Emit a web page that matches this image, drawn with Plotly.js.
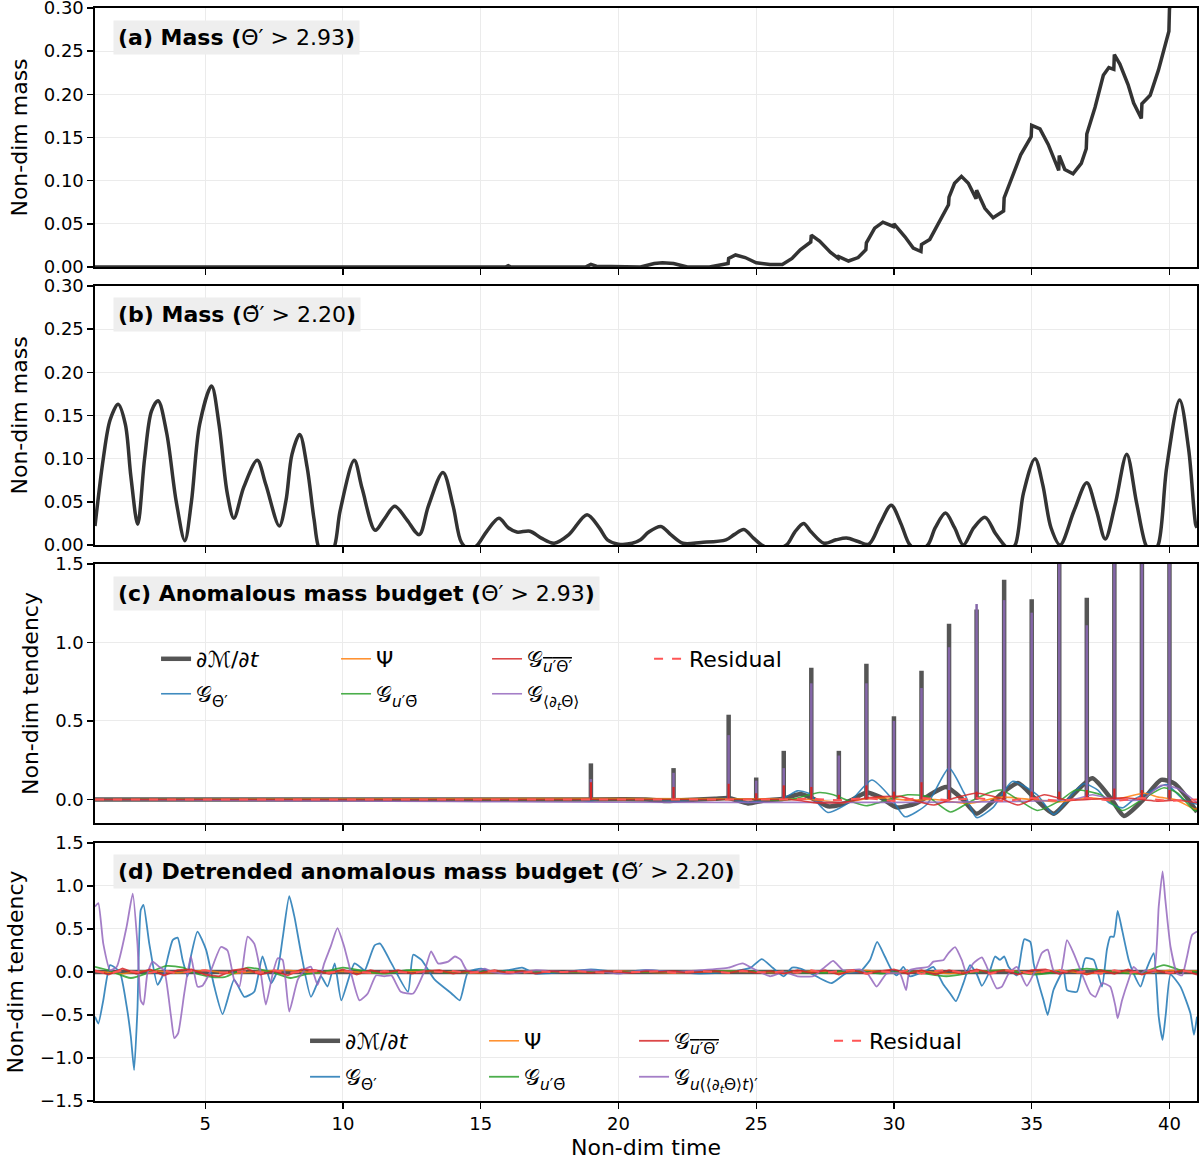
<!DOCTYPE html>
<html>
<head>
<meta charset="utf-8">
<script src="https://cdn.plot.ly/plotly-3.0.1.min.js"></script>
<style>html,body{margin:0;padding:0;background:#fff;}#chart{width:1202px;height:1163px;}</style>
</head>
<body>
<div id="chart"></div>
<script>
// ---------------- DATA ----------------
// (a) Mass, Theta' > 2.93
const massA_t = [1, 15, 15.9, 16.0, 16.1, 18.8, 19.0, 19.2, 20.8, 21.3, 21.6, 22.0, 22.5, 23.3, 23.7, 23.98, 24.0, 24.25, 24.6, 25.0, 25.5, 25.95, 26.3, 26.6, 26.98, 27.0, 27.3, 27.7, 27.98, 28.0, 28.35, 28.7, 28.98, 29.0, 29.3, 29.6, 29.98, 30.0, 30.4, 30.7, 30.98, 31.0, 31.3, 31.6, 31.98, 32.0, 32.2, 32.45, 32.7, 32.98, 33.0, 33.3, 33.6, 33.98, 34.0, 34.3, 34.6, 34.98, 35.0, 35.3, 35.6, 35.98, 36.0, 36.2, 36.5, 36.8, 36.98, 37.0, 37.3, 37.6, 37.8, 37.98, 38.0, 38.2, 38.5, 38.7, 38.98, 39.0, 39.3, 39.6, 39.98, 40.0, 40.1];
const massA_v = [0, 0, 0, 0.0015, 0, 0, 0.003, 0.001, 0, 0.004, 0.005, 0.004, 0.0, 0, 0.002, 0.004, 0.010, 0.014, 0.011, 0.005, 0.003, 0.003, 0.010, 0.020, 0.029, 0.037, 0.030, 0.017, 0.010, 0.012, 0.007, 0.011, 0.020, 0.028, 0.045, 0.052, 0.047, 0.050, 0.035, 0.022, 0.018, 0.026, 0.032, 0.050, 0.072, 0.081, 0.097, 0.105, 0.097, 0.079, 0.089, 0.068, 0.057, 0.065, 0.080, 0.105, 0.130, 0.151, 0.164, 0.160, 0.142, 0.112, 0.129, 0.113, 0.108, 0.120, 0.137, 0.154, 0.185, 0.222, 0.231, 0.229, 0.246, 0.235, 0.211, 0.190, 0.172, 0.189, 0.199, 0.228, 0.273, 0.298, 0.33];

// (b) Mass, detrended Theta' > 2.20
const massB_t = [1.0, 1.3, 1.55, 1.84, 2.1, 2.3, 2.55, 2.8, 3.05, 3.29, 3.6, 3.95, 4.26, 4.5, 4.8, 5.23, 5.5, 5.8, 6.04, 6.4, 6.89, 7.2, 7.69, 7.93, 8.15, 8.43, 8.7, 8.95, 9.15, 9.4, 9.65, 9.9, 10.41, 10.7, 11.17, 11.5, 11.88, 12.3, 12.77, 13.1, 13.63, 14.0, 14.3, 14.6, 14.88, 15.2, 15.66, 16.0, 16.31, 16.79, 17.2, 17.67, 18.2, 18.86, 19.3, 19.6, 20.0, 20.5, 20.8, 21.1, 21.54, 21.9, 22.34, 23.0, 23.9, 24.2, 24.55, 24.9, 25.2, 25.6, 26.1, 26.4, 26.72, 27.0, 27.46, 27.9, 28.28, 28.7, 29.09, 29.5, 29.9, 30.25, 30.58, 30.9, 31.23, 31.5, 31.87, 32.2, 32.52, 32.9, 33.31, 33.69, 34.0, 34.2, 34.4, 34.7, 35.12, 35.4, 35.7, 36.03, 36.54, 37.0, 37.35, 37.67, 38.03, 38.45, 38.8, 39.14, 39.35, 39.59, 39.9, 40.37, 40.7, 40.95, 41.0];
const massB_v = [0.022, 0.10, 0.145, 0.163, 0.14, 0.08, 0.024, 0.10, 0.155, 0.167, 0.13, 0.05, 0.005, 0.05, 0.14, 0.184, 0.14, 0.06, 0.031, 0.067, 0.098, 0.07, 0.022, 0.051, 0.105, 0.128, 0.09, 0.03, -0.005, -0.01, -0.005, 0.04, 0.098, 0.065, 0.017, 0.03, 0.045, 0.03, 0.012, 0.045, 0.084, 0.045, 0.003, -0.005, 0.0, 0.015, 0.031, 0.02, 0.015, 0.016, 0.008, 0.002, 0.012, 0.035, 0.02, 0.006, 0.001, 0.002, 0.006, 0.015, 0.0215, 0.012, 0.002, 0.003, 0.006, 0.012, 0.018, 0.008, 0.0, -0.005, 0.0, 0.015, 0.025, 0.015, 0.002, 0.006, 0.008, 0.004, 0.001, 0.025, 0.046, 0.025, 0.0, -0.006, 0.0, 0.02, 0.037, 0.02, 0.0, 0.02, 0.032, 0.013, 0.0, -0.005, 0.0, 0.06, 0.100, 0.07, 0.02, 0.0, 0.040, 0.072, 0.04, 0.007, 0.047, 0.105, 0.05, 0.0, -0.01, 0.0, 0.09, 0.168, 0.11, 0.024, 0.02];

// (c) Anomalous mass budget: smooth parts
const dMdtC_t = [1, 18, 21, 21.7, 22.3, 23.5, 24.0, 24.7, 25.3, 26.0, 26.6, 27.0, 27.6, 28.1, 28.5, 29.0, 29.5, 30.1, 30.8, 31.4, 31.9, 32.5, 33.0, 33.6, 34.0, 34.5, 35.1, 35.8, 36.5, 37.2, 37.9, 38.35, 39.0, 39.7, 40.2, 40.6, 41.0];
const dMdtC_v = [0, 0, 0, -0.01, -0.005, 0.005, 0.01, -0.025, -0.005, 0.005, 0.035, 0.01, -0.043, -0.03, 0.0, 0.045, 0.015, -0.05, -0.025, 0.04, 0.08, 0.0, -0.09, -0.01, 0.05, 0.105, 0.01, -0.09, 0.03, 0.135, 0.0, -0.105, -0.01, 0.125, 0.10, 0.02, -0.08];
const gThetaDotC_t = [1, 18.5, 19.0, 19.3, 21, 22, 23, 24, 24.7, 25.3, 26.0, 26.5, 26.9, 27.6, 28.4, 29.2, 29.9, 30.4, 31.2, 32.0, 32.55, 33.0, 33.6, 34.3, 35.2, 35.8, 36.5, 36.9, 37.4, 37.8, 38.3, 38.7, 39.3, 39.9, 40.5, 41];
const gThetaDotC_v = [0, 0, -0.01, 0, 0, -0.01, 0, 0.005, -0.02, -0.005, 0.01, 0.055, 0.04, -0.083, -0.015, 0.124, 0.01, -0.11, -0.03, 0.2, 0.04, -0.115, -0.05, 0.115, 0.03, -0.095, 0.04, 0.10, 0.06, -0.02, -0.053, 0.0, 0.05, 0.095, 0.0, -0.03];
const psiC_t = [1, 27, 27.5, 28.2, 29, 29.75, 30.5, 31.5, 32.7, 33.9, 35, 36, 37, 38, 39.1, 39.6, 40.2, 40.9, 41];
const psiC_v = [0, 0, -0.01, -0.02, 0.005, 0.01, -0.005, 0.0, -0.025, 0.015, 0.0, -0.015, 0.01, 0.0, 0.04, 0.015, 0.0, -0.06, -0.06];
const gUThetaBarC_t = [1, 24, 25, 26, 26.5, 27.3, 27.8, 28.4, 29.0, 30.0, 30.5, 31.2, 32.05, 32.7, 33.4, 33.9, 34.5, 35.2, 36.0, 36.6, 37.5, 38.3, 39.0, 39.8, 40.3, 40.9, 41];
const gUThetaBarC_v = [0, 0, 0.0, -0.005, 0.01, 0.045, 0.03, -0.01, -0.04, 0.01, 0.03, 0.02, -0.08, -0.02, 0.04, 0.06, 0.0, -0.07, -0.01, 0.06, 0.03, -0.07, 0.0, 0.075, 0.04, -0.07, -0.07];
const gUThetaC_t = [1, 26, 26.5, 27.1, 28.1, 29, 30.2, 31.45, 32.2, 33.0, 33.9, 34.5, 35.45, 36.3, 37.5, 38.5, 39.5, 40.3, 41];
const gUThetaC_v = [0, 0, -0.005, -0.02, -0.02, 0.01, 0.02, -0.035, 0.01, 0.04, 0.005, -0.035, 0.03, -0.005, 0.005, 0.01, -0.01, -0.005, -0.02];
const gDtThetaC_t = [1, 36.5, 37.2, 38.0, 39.0, 39.7, 40.3, 41];
const gDtThetaC_v = [0, 0, 0.03, 0, 0, 0.09, 0.07, -0.02];
const residC_t = [1, 26, 27, 28, 29, 30, 31, 32, 33, 34, 35, 36, 37, 38, 39, 40, 41];
const residC_v = [0, 0, 0.005, -0.005, 0.01, -0.01, 0.01, -0.005, 0.01, -0.01, 0.01, -0.01, 0.01, -0.01, 0.01, -0.01, 0.0];

// (c) spikes at integer times
const spike_t = [19, 22, 24, 25, 26, 27, 28, 29, 30, 31, 32, 33, 34, 35, 36, 37, 38, 39, 40];
const spikeDMdt = [0.23, 0.20, 0.54, 0.14, 0.31, 0.84, 0.31, 0.865, 0.53, 0.82, 1.12, 1.21, 1.40, 1.275, 1.8, 1.285, 1.8, 1.8, 1.8];
const spikeGDt = [0.13, 0.17, 0.41, 0.12, 0.20, 0.74, 0.28, 0.74, 0.50, 0.71, 0.97, 1.245, 1.27, 1.19, 1.8, 1.11, 1.8, 1.8, 1.8];
const spikeGUTheta = [0.11, 0.08, 0.10, 0.04, 0.09, 0.08, 0.03, 0.09, 0.05, 0.11, 0.06, 0.05, 0.05, 0.05, 0.05, 0.06, 0.07, 0.06, 0.06];

// (d) Detrended anomalous mass budget
const gThetaDotD_t = [1.0, 1.12, 1.3, 1.55, 1.9, 2.15, 2.3, 2.42, 2.54, 2.66, 2.76, 2.97, 3.27, 3.51, 3.82, 4.0, 4.18, 4.36, 4.48, 4.72, 5.03, 5.33, 5.63, 6.05, 6.42, 6.78, 7.08, 7.39, 7.63, 7.81, 8.05, 8.24, 8.48, 8.84, 9.2, 9.44, 9.7, 9.94, 10.42, 10.79, 10.9, 11.15, 11.35, 11.76, 12.36, 12.55, 12.85, 13.33, 13.94, 14.24, 14.54, 15.03, 15.4, 16.0, 16.5, 17, 18, 19, 20, 21, 22, 23, 24, 24.8, 25.2, 25.6, 26.0, 26.3, 26.6, 26.95, 27.73, 28.28, 28.76, 29.13, 29.39, 29.67, 29.92, 30.1, 30.34, 30.58, 31.19, 31.43, 31.8, 32.04, 32.25, 32.52, 32.76, 33.0, 33.19, 33.49, 33.67, 33.85, 34.0, 34.16, 34.46, 34.64, 34.73, 34.95, 35.07, 35.25, 35.43, 35.58, 35.79, 36.16, 36.28, 36.64, 36.95, 37.25, 37.55, 37.73, 37.85, 37.98, 38.12, 38.28, 38.52, 38.7, 38.95, 39.13, 39.25, 39.43, 39.61, 39.75, 39.87, 40.04, 40.4, 40.76, 40.89, 41.0];
const gThetaDotD_v = [-0.52, -0.60, -0.33, 0.08, 0.0, -0.4, -0.75, -1.14, -0.44, 0.72, 0.78, 0.33, -0.15, 0.0, 0.37, 0.40, 0.14, -0.05, 0.18, 0.47, 0.26, -0.17, -0.49, -0.09, -0.29, -0.23, 0.18, -0.13, 0.02, 0.39, 0.88, 0.64, 0.22, -0.29, -0.05, -0.17, 0.1, -0.33, 0.1, 0.02, 0.1, 0.31, 0.33, 0.1, -0.23, 0.2, 0.14, -0.09, -0.25, -0.33, 0.0, 0.04, 0.0, 0.02, 0.05, -0.02, 0.0, 0.03, 0.0, 0.02, 0.0, -0.02, 0.0, 0.05, 0.15, 0.05, -0.05, 0.05, 0.04, -0.01, -0.13, -0.01, 0.0, 0.14, 0.35, 0.18, 0.02, -0.04, 0.06, -0.05, 0.02, 0.06, -0.15, -0.25, -0.34, -0.13, 0.08, -0.02, -0.16, 0.02, 0.18, 0.14, 0.18, 0.06, -0.04, 0.26, 0.38, 0.35, 0.10, -0.13, -0.33, -0.50, -0.21, 0.02, -0.21, -0.23, 0.16, 0.14, -0.17, 0.26, 0.41, 0.41, 0.71, 0.49, 0.14, -0.02, -0.17, 0.0, 0.10, 0.22, -0.52, -0.79, -0.48, -0.03, -0.17, -0.48, -0.73, -0.52];
const gDtThetaD_t = [1.0, 1.12, 1.3, 1.55, 1.79, 2.15, 2.37, 2.54, 2.66, 2.76, 2.9, 3.09, 3.33, 3.51, 3.76, 3.88, 4.02, 4.24, 4.48, 4.72, 4.9, 5.21, 5.57, 5.81, 6.05, 6.24, 6.54, 6.78, 7.02, 7.2, 7.45, 7.63, 7.81, 8.05, 8.36, 8.66, 8.84, 9.08, 9.32, 9.56, 9.8, 10.04, 10.3, 10.6, 10.9, 11.2, 11.5, 11.76, 12.1, 12.55, 12.97, 13.2, 13.45, 13.82, 14.06, 14.28, 14.49, 14.79, 15.15, 15.4, 16, 17, 18, 19, 20, 21, 22, 23, 24, 24.5, 25.0, 25.5, 26.0, 26.5, 27.07, 27.43, 27.79, 28.16, 28.76, 29.07, 29.37, 29.73, 30.22, 30.44, 30.58, 31.25, 31.43, 31.8, 31.98, 32.22, 32.46, 32.64, 32.88, 33.19, 33.37, 33.73, 33.92, 34.16, 34.46, 34.82, 35.13, 35.37, 35.58, 35.79, 36.04, 36.28, 36.52, 36.82, 37.13, 37.31, 37.55, 37.85, 38.04, 38.12, 38.28, 38.52, 38.7, 38.95, 39.13, 39.43, 39.61, 39.75, 39.85, 40.04, 40.28, 40.46, 40.64, 40.82, 41.0];
const gDtThetaD_v = [0.76, 0.80, 0.33, 0.02, 0.06, 0.53, 0.91, 0.33, -0.33, -0.38, -0.02, 0.12, 0.06, 0.02, -0.52, -0.77, -0.71, -0.25, 0.18, -0.17, -0.16, 0.02, 0.29, 0.25, -0.09, -0.17, 0.41, 0.33, -0.02, -0.38, -0.02, 0.16, 0.14, -0.46, -0.09, 0.04, 0.06, -0.15, 0.10, 0.30, 0.51, 0.30, -0.02, -0.33, -0.25, -0.04, -0.05, -0.04, -0.23, -0.25, 0.02, 0.24, 0.10, 0.12, 0.18, 0.14, 0.02, 0.0, 0.04, 0.0, -0.02, 0.02, 0.0, 0.02, -0.02, 0.02, 0.0, 0.02, 0.05, 0.1, 0.02, -0.05, 0.0, -0.05, -0.05, 0.04, 0.13, 0.02, 0.03, -0.03, -0.17, -0.02, -0.02, -0.21, 0.02, 0.06, 0.12, 0.14, 0.22, 0.29, 0.14, -0.02, 0.10, 0.17, 0.06, -0.19, -0.17, -0.02, 0.06, -0.16, 0.02, 0.22, 0.26, 0.02, -0.02, 0.37, 0.22, -0.02, -0.25, -0.29, -0.13, -0.17, -0.40, -0.54, -0.33, -0.09, 0.06, -0.02, 0.02, 0.0, 0.76, 1.17, 0.84, 0.29, -0.02, -0.04, 0.18, 0.43, 0.47];
const gUThetaBarD_t = [1.0, 1.5, 2.3, 3.0, 3.6, 4.2, 4.5, 5.1, 5.7, 6.54, 7.4, 8.1, 8.6, 9.3, 10.0, 10.6, 11.5, 12.3, 13.0, 13.8, 14.5, 16, 18, 20, 22, 24, 26, 27.5, 28.5, 29.5, 30.5, 31.9, 33, 34, 35.1, 36, 37.0, 38, 38.9, 39.8, 40.4, 41];
const gUThetaBarD_v = [0.06, 0.02, -0.07, 0.0, 0.07, 0.05, 0.0, -0.05, -0.06, 0.05, 0.0, -0.07, -0.03, 0.0, 0.05, 0.02, -0.02, 0.02, 0.02, -0.01, 0.0, 0.01, 0.0, 0.0, 0.0, 0.01, 0.0, -0.01, 0.02, -0.02, 0.01, -0.05, 0.0, 0.02, -0.03, 0.0, 0.04, 0.0, -0.02, 0.08, 0.02, 0.0];
const tFull = [1, 2, 3, 4, 5, 6, 7, 8, 9, 10, 11, 12, 13, 14, 15, 16, 17, 18, 19, 20, 21, 22, 23, 24, 25, 26, 27, 28, 29, 30, 31, 32, 33, 34, 35, 36, 37, 38, 39, 40, 41];
const psiD_v = [0.01, -0.02, 0.02, -0.01, 0.02, -0.02, 0.01, 0.02, -0.01, 0.01, -0.01, 0.0, 0.01, 0.0, -0.01, 0.0, 0.01, 0.0, 0.0, 0.01, 0.0, -0.01, 0.0, 0.01, 0.0, -0.01, 0.01, -0.01, 0.02, -0.01, 0.01, -0.02, 0.01, 0.02, -0.01, 0.02, -0.02, 0.01, -0.02, 0.02, 0.01];
const tHalf = [1, 1.5, 2, 2.5, 3, 3.5, 4, 4.5, 5, 5.5, 6, 6.5, 7, 7.5, 8, 8.5, 9, 9.5, 10, 10.5, 11, 11.5, 12, 12.5, 13, 13.5, 14, 14.5, 15, 15.5, 16, 16.5, 17, 17.5, 18, 18.5, 19, 19.5, 20, 20.5, 21, 21.5, 22, 22.5, 23, 23.5, 24, 24.5, 25, 25.5, 26, 26.5, 27, 27.5, 28, 28.5, 29, 29.5, 30, 30.5, 31, 31.5, 32, 32.5, 33, 33.5, 34, 34.5, 35, 35.5, 36, 36.5, 37, 37.5, 38, 38.5, 39, 39.5, 40, 40.5, 41];
const gUThetaD_v = [0.02, -0.03, 0.04, -0.02, 0.03, -0.04, 0.02, 0.03, -0.03, -0.05, 0.02, 0.04, -0.03, 0.01, -0.04, 0.03, 0.02, -0.02, 0.03, -0.03, 0.02, -0.01, 0.02, -0.02, 0.01, 0.02, -0.02, 0.01, -0.01, 0.02, -0.01, 0.01, -0.02, 0.01, 0.0, 0.01, -0.01, 0.01, 0.0, -0.01, 0.01, 0.0, 0.01, -0.01, 0.0, 0.01, -0.01, 0.02, -0.01, 0.01, -0.02, 0.02, -0.01, 0.02, -0.03, 0.02, -0.02, 0.01, 0.03, -0.02, 0.02, -0.03, 0.02, -0.02, 0.03, -0.01, 0.02, -0.03, 0.02, 0.03, -0.02, 0.02, -0.03, 0.02, -0.02, 0.03, -0.03, 0.02, -0.02, 0.02, -0.03];
const residD_v = [0.01, -0.02, 0.02, 0.0, -0.01, 0.02, -0.02, 0.01, 0.02, -0.01, 0.0, 0.01, -0.01, 0.02, -0.01, 0.0, 0.01, -0.01, 0.01, 0.0, -0.01, 0.01, 0.0, -0.01, 0.01, 0.0, 0.01, -0.01, 0.0, 0.01, 0.0, -0.01, 0.01, 0.0, 0.0, 0.01, 0.0, -0.01, 0.01, 0.0, 0.0, 0.01, -0.01, 0.0, 0.01, 0.0, -0.01, 0.01, 0.0, -0.01, 0.01, -0.01, 0.02, -0.01, 0.01, 0.02, -0.02, 0.01, -0.01, 0.02, -0.02, 0.01, 0.02, -0.01, 0.01, -0.02, 0.02, 0.01, -0.02, 0.01, 0.02, -0.01, 0.01, -0.02, 0.02, -0.01, 0.01, 0.02, -0.01, 0.01, 0.0];
const dMdtD_t = [1, 41];
const dMdtD_v = [0, 0];

// labels
const panelTitles = [
  '<b>(a) Mass (</b>Θ′ > 2.93<b>)</b>',
  '<b>(b) Mass (</b>Θ̃′ > 2.20<b>)</b>',
  '<b>(c) Anomalous mass budget (</b>Θ′ > 2.93<b>)</b>',
  '<b>(d) Detrended anomalous mass budget (</b>Θ̃′ > 2.20<b>)</b>'
];
const N_DM = '∂ℳ/∂<i>t</i>';
const N_PSI = 'Ψ';
const N_UT = '𝒢<sub><span style="text-decoration:overline"><i>u</i>′Θ′</span></sub>';
const N_RES = 'Residual';
const N_TD = '𝒢<sub>Θ̇′</sub>';
const N_UTB = '𝒢<sub><i>u</i>′Θ̄</sub>';
const N_DT_C = '𝒢<sub>⟨∂<sub><i>t</i></sub>Θ⟩</sub>';
const N_DT_D = '𝒢<sub><i>u</i>(⟨∂<sub><i>t</i></sub>Θ⟩<i>t</i>)′</sub>';

// ---------------- STYLE ----------------
const C = {gray:'#555555', blue:'#1f77b4', orange:'#ff7f0e', green:'#2ca02c', red:'#d62728', purple:'#9467bd', resid:'#ff5555', mass:'#333333'};
const FONT = 'DejaVu Sans, Arial, sans-serif';

function spikes(ts, hs) {
  const x = [], y = [];
  ts.forEach((t, i) => { x.push(t, t, null); y.push(0, hs[i], null); });
  return {x, y};
}

const traces = [];
// (a)
traces.push({x: massA_t, y: massA_v, xaxis:'x', yaxis:'y', mode:'lines', line:{color:C.mass, width:3.5}, showlegend:false, hoverinfo:'skip'});
// (b)
traces.push({x: massB_t, y: massB_v, xaxis:'x2', yaxis:'y2', mode:'lines', line:{color:C.mass, width:3.5, shape:'spline', smoothing:0.9}, showlegend:false, hoverinfo:'skip'});

// (c)
const sG = spikes(spike_t, spikeDMdt), sP = spikes(spike_t, spikeGDt), sR = spikes(spike_t, spikeGUTheta);
traces.push({x: dMdtC_t, y: dMdtC_v, xaxis:'x3', yaxis:'y3', mode:'lines', name:N_DM, legend:'legend', legendwidth:135, line:{color:C.gray, width:4.5, shape:'spline', smoothing:0.6}, hoverinfo:'skip'});
traces.push({x: sG.x, y: sG.y, xaxis:'x3', yaxis:'y3', mode:'lines', line:{color:C.gray, width:4.5}, showlegend:false, hoverinfo:'skip'});
traces.push({x: gThetaDotC_t, y: gThetaDotC_v, xaxis:'x3', yaxis:'y3', mode:'lines', name:N_TD, legend:'legend2', legendwidth:135, line:{color:C.blue, width:1.6, shape:'spline', smoothing:0.6}, opacity:0.85, hoverinfo:'skip'});
traces.push({x: psiC_t, y: psiC_v, xaxis:'x3', yaxis:'y3', mode:'lines', name:N_PSI, legend:'legend', legendwidth:106, line:{color:C.orange, width:1.6, shape:'spline', smoothing:0.6}, opacity:0.85, hoverinfo:'skip'});
traces.push({x: gUThetaBarC_t, y: gUThetaBarC_v, xaxis:'x3', yaxis:'y3', mode:'lines', name:N_UTB, legend:'legend2', legendwidth:106, line:{color:C.green, width:1.6, shape:'spline', smoothing:0.6}, opacity:0.85, hoverinfo:'skip'});
traces.push({x: gDtThetaC_t, y: gDtThetaC_v, xaxis:'x3', yaxis:'y3', mode:'lines', name:N_DT_C, legend:'legend2', legendwidth:117, line:{color:C.purple, width:1.6, shape:'spline', smoothing:0.6}, opacity:0.85, hoverinfo:'skip'});
traces.push({x: sP.x, y: sP.y, xaxis:'x3', yaxis:'y3', mode:'lines', line:{color:'#8466a8', width:2.5}, showlegend:false, hoverinfo:'skip'});
traces.push({x: gUThetaC_t, y: gUThetaC_v, xaxis:'x3', yaxis:'y3', mode:'lines', name:N_UT, legend:'legend', legendwidth:117, line:{color:C.red, width:1.6, shape:'spline', smoothing:0.6}, opacity:0.85, hoverinfo:'skip'});
traces.push({x: sR.x, y: sR.y, xaxis:'x3', yaxis:'y3', mode:'lines', line:{color:C.red, width:2.2}, showlegend:false, hoverinfo:'skip'});
traces.push({x: residC_t, y: residC_v, xaxis:'x3', yaxis:'y3', mode:'lines', name:N_RES, legend:'legend', line:{color:C.resid, width:2, dash:'dash'}, hoverinfo:'skip'});

// (d)
traces.push({x: dMdtD_t, y: dMdtD_v, xaxis:'x4', yaxis:'y4', mode:'lines', name:N_DM, legend:'legend3', legendwidth:134, line:{color:C.gray, width:4.5}, hoverinfo:'skip'});
traces.push({x: gThetaDotD_t, y: gThetaDotD_v, xaxis:'x4', yaxis:'y4', mode:'lines', name:N_TD, legend:'legend4', legendwidth:134, line:{color:C.blue, width:1.8, shape:'spline', smoothing:0.5}, opacity:0.85, hoverinfo:'skip'});
traces.push({x: tFull, y: psiD_v, xaxis:'x4', yaxis:'y4', mode:'lines', name:N_PSI, legend:'legend3', legendwidth:105, line:{color:C.orange, width:1.6}, opacity:0.85, hoverinfo:'skip'});
traces.push({x: gUThetaBarD_t, y: gUThetaBarD_v, xaxis:'x4', yaxis:'y4', mode:'lines', name:N_UTB, legend:'legend4', legendwidth:105, line:{color:C.green, width:1.8, shape:'spline', smoothing:0.6}, opacity:0.85, hoverinfo:'skip'});
traces.push({x: gDtThetaD_t, y: gDtThetaD_v, xaxis:'x4', yaxis:'y4', mode:'lines', name:N_DT_D, legend:'legend4', legendwidth:150, line:{color:C.purple, width:1.8, shape:'spline', smoothing:0.5}, opacity:0.85, hoverinfo:'skip'});
traces.push({x: tHalf, y: gUThetaD_v, xaxis:'x4', yaxis:'y4', mode:'lines', name:N_UT, legend:'legend3', legendwidth:150, line:{color:C.red, width:1.8}, opacity:0.85, hoverinfo:'skip'});
traces.push({x: tHalf, y: residD_v, xaxis:'x4', yaxis:'y4', mode:'lines', name:N_RES, legend:'legend3', line:{color:C.resid, width:2, dash:'dash'}, hoverinfo:'skip'});

const gridC = '#ebebeb';
function xax(anchor, showLabels) {
  return {anchor, range:[1, 41], dtick:5, tick0:0, showgrid:true, gridcolor:gridC, gridwidth:1, zeroline:false,
    showline:true, linecolor:'#000', linewidth:1.6, mirror:true, ticks:'outside', ticklen:6, tickwidth:1.4, tickcolor:'#000',
    showticklabels:showLabels, tickfont:{size:18, color:'#000'}};
}
function yax(anchor, domain, range, tickvals, fmt, title) {
  return {anchor, domain, range, tickvals, tickformat:fmt, showgrid:true, gridcolor:gridC, gridwidth:1, zeroline:false,
    showline:true, linecolor:'#000', linewidth:1.6, mirror:true, ticks:'outside', ticklen:6, tickwidth:1.4, tickcolor:'#000',
    ticklabeloverflow:'allow', tickfont:{size:18, color:'#000'}, title:{text:title, font:{size:22, color:'#000'}, standoff:10}};
}

const legBase = {orientation:'h', bgcolor:'rgba(0,0,0,0)', borderwidth:0, font:{size:22, color:'#000', family:FONT}, xanchor:'left', yanchor:'middle', tracegroupgap:0, itemclick:false};

const annotations = panelTitles.map((txt, i) => ({
  text: txt, xref: (i === 0 ? 'x' : 'x' + (i + 1)) + ' domain', yref: (i === 0 ? 'y' : 'y' + (i + 1)) + ' domain',
  x: 0.0163, y: 0.888, xanchor:'left', yanchor:'middle', showarrow:false,
  font:{size:22, color:'#000', family:FONT}, bgcolor:'#eeeeee', borderpad:4
}));

const layout = {
  width:1202, height:1163, margin:{l:95, r:5, t:8, b:62},
  paper_bgcolor:'#fff', plot_bgcolor:'#fff', font:{family:FONT, color:'#000'},
  xaxis: xax('y', false), xaxis2: xax('y2', false), xaxis3: xax('y3', false),
  xaxis4: Object.assign(xax('y4', true), {title:{text:'Non-dim time', font:{size:22, color:'#000'}, standoff:6}}),
  yaxis: yax('x', [0.7630, 1], [0, 0.30], [0, 0.05, 0.10, 0.15, 0.20, 0.25, 0.30], '.2f', 'Non-dim mass'),
  yaxis2: yax('x2', [0.5087, 0.7457], [0, 0.30], [0, 0.05, 0.10, 0.15, 0.20, 0.25, 0.30], '.2f', 'Non-dim mass'),
  yaxis3: yax('x3', [-0.15, 1.5].length ? [0.2543, 0.4913] : null, [-0.15, 1.5], [0, 0.5, 1.0, 1.5], '.1f', 'Non-dim tendency'),
  yaxis4: yax('x4', [0, 0.2361], [-1.5, 1.5], [-1.5, -1.0, -0.5, 0, 0.5, 1.0, 1.5], '.1f', 'Non-dim tendency'),
  legend: Object.assign({}, legBase, {x:0.0554, y:0.4044}),
  legend2: Object.assign({}, legBase, {x:0.0554, y:0.3724}),
  legend3: Object.assign({}, legBase, {x:0.1906, y:0.0549}),
  legend4: Object.assign({}, legBase, {x:0.1906, y:0.0220}),
  annotations, showlegend:true
};

Plotly.newPlot('chart', traces, layout, {displayModeBar:false, staticPlot:true});
</script>
</body>
</html>
